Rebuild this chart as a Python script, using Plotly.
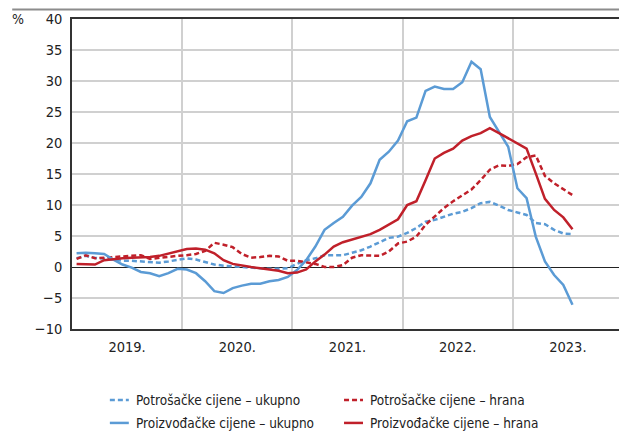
import plotly.graph_objects as go

# monthly data, Jan 2019 .. Jul 2023 (month index 0..54)
months = list(range(55))
years = ["2019.", "2020.", "2021.", "2022.", "2023."]

cpi_total = [1.4, 1.8, 1.5, 1.3, 1.1, 1.0, 1.0, 0.9, 0.8, 0.7, 0.9, 1.2,
             1.4, 1.2, 0.8, 0.4, 0.2, 0.1, 0.0, -0.2, -0.3, -0.3, -0.3, -0.2,
             0.5, 1.1, 1.4, 1.9, 1.9, 1.9, 2.3, 2.7, 3.3, 4.0, 4.7, 4.9,
             5.5, 6.3, 7.3, 7.6, 8.1, 8.6, 8.9, 9.5, 10.3, 10.5, 9.9, 9.2,
             8.8, 8.4, 7.1, 6.9, 6.0, 5.4, 5.3]
cpi_food = [1.3, 1.9, 1.4, 1.5, 1.6, 1.7, 1.8, 1.9, 1.3, 1.5, 1.7, 1.8,
            1.9, 2.1, 2.6, 3.9, 3.6, 3.2, 2.1, 1.5, 1.6, 1.8, 1.7, 1.0,
            1.0, 0.8, 0.5, 0.0, 0.0, 0.3, 1.5, 1.9, 1.9, 1.8, 2.5, 3.8,
            4.1, 4.9, 6.8, 8.1, 9.5, 10.6, 11.6, 12.5, 14.0, 15.7, 16.4, 16.3,
            16.6, 17.7, 18.0, 14.7, 13.5, 12.6, 11.6]
ppi_total = [2.2, 2.3, 2.2, 2.1, 1.2, 0.4, -0.1, -0.8, -1.0, -1.5, -1.0, -0.3,
             -0.4, -1.0, -2.3, -3.9, -4.2, -3.4, -3.0, -2.7, -2.7, -2.3, -2.1, -1.6,
             -0.5, 1.1, 3.3, 6.0, 7.1, 8.1, 9.9, 11.3, 13.5, 17.3, 18.6, 20.4,
             23.5, 24.1, 28.4, 29.1, 28.7, 28.7, 29.8, 33.1, 31.9, 24.2, 21.8, 19.4,
             12.7, 11.1, 4.9, 0.9, -1.3, -2.9, -6.1]
ppi_food = [0.5, 0.5, 0.4, 1.1, 1.3, 1.4, 1.5, 1.5, 1.6, 1.8, 2.2, 2.6,
            2.9, 3.0, 2.8, 2.2, 1.1, 0.5, 0.2, 0.0, -0.2, -0.4, -0.6, -1.0,
            -0.9, -0.4, 0.9, 2.0, 3.3, 4.0, 4.4, 4.9, 5.3, 6.0, 6.8, 7.7,
            10.0, 10.6, 14.0, 17.5, 18.4, 19.1, 20.4, 21.1, 21.6, 22.4, 21.6, 20.8,
            20.0, 19.1, 15.1, 11.0, 9.2, 8.0, 6.1]

BLUE = "#5b9bd5"
RED = "#c0202a"
FONT = "Liberation Sans Narrow, DejaVu Sans Condensed, Arial Narrow, sans-serif"

series = [
    ("Potrošačke cijene – ukupno", cpi_total, BLUE, "5px,3px"),
    ("Potrošačke cijene – hrana", cpi_food, RED, "5px,3px"),
    ("Proizvođačke cijene – ukupno", ppi_total, BLUE, "solid"),
    ("Proizvođačke cijene – hrana", ppi_food, RED, "solid"),
]

fig = go.Figure()
for name, vals, col, dash in series:
    fig.add_trace(go.Scatter(x=months, y=vals, name=name, mode="lines",
                             line=dict(color=col, width=2.5, dash=dash)))

# page body has an 8px margin, so the figure is a bit smaller than the window
fig.update_layout(
    width=619, height=427,
    margin=dict(l=64, r=2, t=11, b=106),
    paper_bgcolor="white", plot_bgcolor="white",
    font=dict(family=FONT, size=14.5, color="#222"),
    showlegend=False,
)
fig.update_xaxes(
    range=[-0.5, 59.5], tickvals=[5.5, 17.5, 29.5, 41.5, 53.5], ticktext=years,
    showgrid=False, ticks="", ticklabelstandoff=4,
    minor=dict(tick0=-0.5, dtick=12, showgrid=True, gridcolor="#d0d0d0", gridwidth=1.5),
    showline=True, mirror=True, linecolor="#333", linewidth=1.5, zeroline=False,
)
fig.update_yaxes(
    range=[-10, 40], dtick=5, showgrid=True, gridcolor="#d0d0d0", gridwidth=1.5,
    zeroline=True, zerolinecolor="#222", zerolinewidth=1, ticks="",
    ticklabelstandoff=5,
    showline=True, mirror=True, linecolor="#333", linewidth=1.5,
)

# "%" unit label and top rule
fig.add_annotation(text="%", xref="paper", yref="paper", x=-0.112, y=1.0,
                   xanchor="left", yanchor="middle", showarrow=False, font=dict(size=14))
fig.add_shape(type="line", xref="paper", yref="paper", x0=-0.1085, x1=1.0, y0=1.031, y1=1.031,
              line=dict(color="#8c8c8c", width=2))

# manual legend (2 columns)
legend_pos = [(0.0687, -0.229), (0.4937, -0.229), (0.0687, -0.303), (0.4937, -0.303)]
for (name, vals, col, dash), (lx, ly) in zip(series, legend_pos):
    fig.add_shape(type="line", xref="paper", yref="paper", x0=lx, x1=lx + 0.0344, y0=ly, y1=ly,
                  line=dict(color=col, width=2.5, dash=dash))
    fig.add_annotation(text=name, xref="paper", yref="paper", x=lx + 0.044, y=ly,
                       xanchor="left", yanchor="middle", showarrow=False, font=dict(size=13.5))

fig.write_html("out.html")
